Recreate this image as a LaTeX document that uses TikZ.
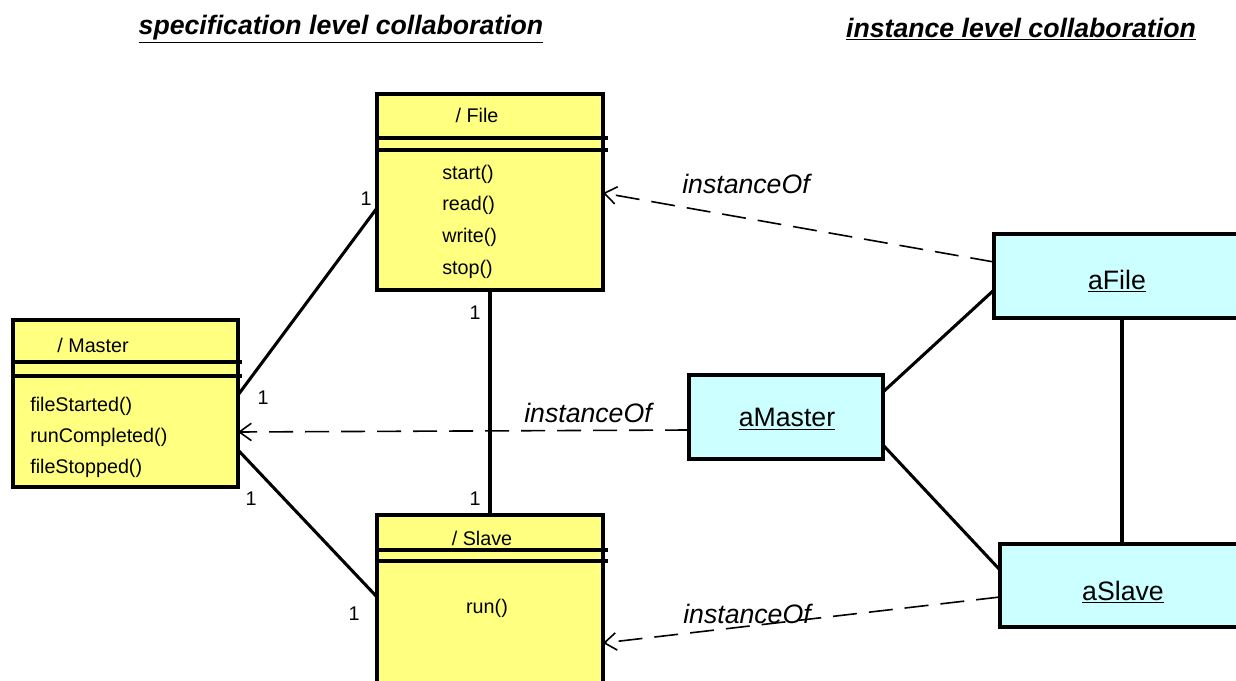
\documentclass[tikz,border=0pt]{standalone}
\usepackage{fontspec}
\setmainfont{Liberation Sans}
\usetikzlibrary{arrows.meta,calc}
\definecolor{classyellow}{RGB}{255,255,128}
\definecolor{objcyan}{RGB}{204,255,255}

\begin{document}
\begin{tikzpicture}[x=0.75pt,y=-0.75pt,
  classbox/.style={draw,line width=2.7pt,fill=classyellow,inner sep=0,outer sep=0},
  objbox/.style={draw,line width=2.6pt,fill=objcyan,inner sep=0,outer sep=0},
  compsep/.style={line width=2.5pt},
  assoc/.style={line width=2.3pt},
  realize/.style={line width=1.2pt,dash pattern=on 18pt off 9pt,
    -{Straight Barb[length=9pt,width=13pt,line width=1.2pt]}},
  small/.style={font=\fontsize{14.8}{17}\selectfont,inner sep=0},
  objname/.style={font=\fontsize{20}{24}\selectfont,inner sep=0},
  reltext/.style={font=\fontsize{20}{24}\selectfont\itshape,inner sep=0},
  heading/.style={font=\fontsize{20}{24}\selectfont\bfseries\itshape,inner sep=0}]
\useasboundingbox (0,0) rectangle (1236,681);

% headings
\node[heading] (spechead) at (341,29) {\underline{specification level collaboration}};
\node[heading] (insthead) at (1021,29) {\underline{instance level collaboration}};

% specification level classes
\node[classbox,minimum width=169.5pt,minimum height=147pt] (file) at (490,192) {};
\node[classbox,minimum width=168.75pt,minimum height=125.25pt] (master) at (125.5,403.5) {};
\node[classbox,minimum width=169.5pt,minimum height=138.75pt] (slave) at (490,607.5) {};

% compartment separators
\draw[compsep] (file.north west |- 0,138) -- (608,138);
\draw[compsep] (file.north west |- 0,150) -- (608,150);
\draw[compsep] (master.north west |- 0,362) -- (242,362);
\draw[compsep] (master.north west |- 0,376) -- (242,376);
\draw[compsep] (slave.north west |- 0,550) -- (608,550);
\draw[compsep] (slave.north west |- 0,561) -- (608,561);

% class names and operations
\node[small] (filename) at (477,115) {/ File};
\node[small,anchor=west] (op1) at (442,174) {start()};
\node[small,anchor=west] (op2) at (442,205) {read()};
\node[small,anchor=west] (op3) at (442,237) {write()};
\node[small,anchor=west] (op4) at (442,269) {stop()};

\node[small] (mastername) at (93,345) {/ Master};
\node[small,anchor=west] (op5) at (30,406) {fileStarted()};
\node[small,anchor=west] (op6) at (30,437) {runCompleted()};
\node[small,anchor=west] (op7) at (30,468) {fileStopped()};

\node[small] (slavename) at (482,538) {/ Slave};
\node[small] (op8) at (487,608) {run()};

% instance level objects
\node[objbox,minimum width=184.5pt,minimum height=63pt] (afile) at (1117,276) {};
\node[objbox,minimum width=145.5pt,minimum height=63pt] (amaster) at (786,417) {};
\node[objbox,minimum width=184.5pt,minimum height=62.25pt] (aslave) at (1123,585.5) {};
\node[objname] (afilename) at (1117,281) {\underline{aFile}};
\node[objname] (amastername) at (787,419) {\underline{aMaster}};
\node[objname] (aslavename) at (1123,592) {\underline{aSlave}};

% associations between classes
\draw[assoc] ($(master.north east)+(0,75)$) -- ($(file.north west)+(0,114)$);
\draw[assoc] ($(master.north east)+(0,130)$) -- ($(slave.north west)+(0,82)$);
\draw[assoc] (file.south) -- (slave.north);

% multiplicities
\node[small] (m1) at (366,199) {1};
\node[small] (m2) at (263,398) {1};
\node[small] (m3) at (251,499) {1};
\node[small] (m4) at (354,614) {1};
\node[small] (m5) at (475,313) {1};
\node[small] (m6) at (475,499) {1};

% links between objects
\draw[assoc] ($(amaster.north east)+(0,17)$) -- ($(afile.north west)+(0,56)$);
\draw[assoc] ($(amaster.north east)+(0,70)$) -- ($(aslave.north west)+(0,26)$);
\draw[assoc] ($(afile.south west)+(128,0)$) -- ($(aslave.north west)+(122,0)$);

% instanceOf dependencies
\draw[realize] ($(afile.north west)+(0,28)$) -- ($(file.north east)+(0,99)$);
\draw[realize] ($(amaster.north west)+(0,55)$) -- ($(master.north east)+(0,112)$);
\draw[realize] ($(aslave.north west)+(0,53)$) -- ($(slave.north east)+(0,128)$);

\node[reltext] (io1) at (746,184) {instanceOf};
\node[reltext] (io2) at (588,413) {instanceOf};
\node[reltext] (io3) at (747,614) {instanceOf};
\end{tikzpicture}
\end{document}
